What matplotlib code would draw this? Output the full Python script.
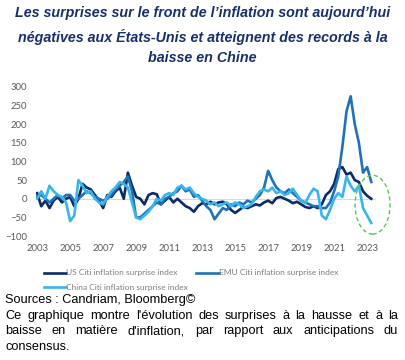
import numpy as np
import matplotlib
matplotlib.use("Agg")
import matplotlib.pyplot as plt
from matplotlib.patches import Ellipse

# quarterly readings, 2003Q1 .. 2023Q2
years = 2003 + 0.25 * np.arange(82)

us = [15, -20, -5, -25, -5, 5, -10, 0, 5, -20, 0, 40, 30, 25, 10, -5,
      -25, 10, 5, 20, 30, 0, 70, 35, 5, 0, -15, 10, 15, 12, -15, -5,
      5, -10, 0, -10, -20, -25, -35, -20, -12, -15, -8, -15, -10, -8, -15, -30,
      -38, -30, -22, -25, -20, -15, -18, -10, -5, -12, 2, 5, 0, -5, -12, -8,
      -15, -22, -25, -20, -25, -15, 10, 20, 40, 80, 85, 65, 70, 50, 45, 20,
      8, 0]

emu = [5, 10, 0, -10, 0, 10, 0, 10, 10, -5, 0, 10, 20, 15, 5, 0,
       -5, 0, 10, 25, 35, 45, 60, 20, -50, -50, -40, -30, -20, -10, -15, 0,
       5, 15, 20, 35, 20, 25, 5, 10, -5, -20, -30, -55, -40, -25, -30, -15,
       -20, -10, -15, -5, -10, 0, 10, 30, 75, 50, 30, 20, 15, 25, 15, 5,
       -5, -10, -15, -20, -20, -25, -25, -10, 20, 60, 140, 235, 275, 200, 150, 70,
       85, 45]

china = [0, 20, 0, 35, 20, 10, 5, -10, -60, -45, 50, 35, 15, 20, 0, -10,
         -15, 5, 20, 30, 45, 40, 30, -10, -50, -55, -45, -35, -20, 0, -5, 10,
         15, 10, 30, 35, 25, 30, 15, 5, 0, -5, -15, -10, -20, -15, -10, -20,
         -10, -15, -25, -20, -15, 5, 20, 25, 20, 30, 15, 20, 10, 15, 27, 10,
         -5, -12, 10, 27, 20, -45, -55, -30, 0, 15, 5, 60, 35, 20, 35, -25,
         -45, -65]

labels = ["US Citi inflation surprise index",
          "EMU Citi inflation surprise index",
          "China Citi inflation surprise index"]
colors = ["#0c2a66", "#1f72b8", "#38b6ec"]

title = ("Les surprises sur le front de l\u2019inflation sont aujourd\u2019hui\n"
         "n\u00e9gatives aux \u00c9tats-Unis et atteignent des records \u00e0 la\n"
         "baisse en Chine")
source = "Sources : Candriam, Bloomberg\u00a9"
note_lines = ["Ce graphique montre l'\u00e9volution des surprises \u00e0 la hausse et \u00e0 la",
              "baisse en mati\u00e8re d'inflation, par rapport aux anticipations du",
              "consensus."]

fig = plt.figure(figsize=(4.05, 3.6), dpi=100)
ax = fig.add_axes([35.5 / 405, 124 / 360, 356.4 / 405, 149 / 360])

ax.plot([2003, 2023.5], [0, 0], color="#d9d9d9", lw=0.8, zorder=1)
lines = []
for vals, col, lab in zip([us, emu, china], colors, labels):
    ln, = ax.plot(years, vals, color=col, lw=1.9, label=lab, zorder=2)
    lines.append(ln)

ell = Ellipse((2023.33, -16), 2.12, 158, fill=False, ls=(0, (3, 2)),
              edgecolor="#5cc35c", lw=1.0, zorder=3)
ax.add_patch(ell)

ax.set_xlim(2002.9, 2024.5)
ax.set_ylim(-100, 300)
ax.set_xticks(range(2003, 2024, 2))
ax.set_yticks(range(-100, 301, 50))
for s in ax.spines.values():
    s.set_visible(False)
ax.tick_params(length=0, labelsize=6.8, labelcolor="#595959")
ax.tick_params(axis="x", pad=6)
ax.tick_params(axis="y", pad=6)
for t in ax.get_xticklabels() + ax.get_yticklabels():
    t.set_family("Lato")

fig.text(0.5, 0.982, title, ha="center", va="top", fontsize=10.3,
         family="Liberation Sans", weight="bold", style="italic",
         color="#17306b", linespacing=1.62)

# order so that US / EMU share the first row, China sits below US
order = [0, 2, 1]
leg = fig.legend([lines[i] for i in order], [labels[i] for i in order],
                 loc="upper left", bbox_to_anchor=(36 / 405, 1 - 262 / 360),
                 ncol=2, frameon=False, handlelength=2.7, handletextpad=0.0,
                 columnspacing=1.0, labelspacing=0.95,
                 prop={"family": "Lato", "size": 6})
for t in leg.get_texts():
    t.set_color("#7f7f7f")

fs = 9.2
fig.text(5 / 405, 1 - 300 / 360, source, ha="left", va="center", fontsize=fs,
         family="Liberation Sans", color="black")

# justified note paragraph
renderer = fig.canvas.get_renderer()
x0, x1 = 5 / 405, 398 / 405
ys = [1 - 316 / 360, 1 - 331 / 360, 1 - 347 / 360]
for i, (line, y) in enumerate(zip(note_lines, ys)):
    words = line.split(" ")
    if i == len(note_lines) - 1:
        fig.text(x0, y, line, ha="left", va="center", fontsize=fs,
                 family="Liberation Sans", color="black")
        continue
    objs = [fig.text(0, y, w, ha="left", va="center", fontsize=fs,
                     family="Liberation Sans", color="black") for w in words]
    widths = [o.get_window_extent(renderer).width / fig.bbox.width for o in objs]
    gap = (x1 - x0 - sum(widths)) / (len(words) - 1)
    x = x0
    for o, w in zip(objs, widths):
        o.set_x(x)
        x += w + gap

fig.savefig("out.png", dpi=100)
